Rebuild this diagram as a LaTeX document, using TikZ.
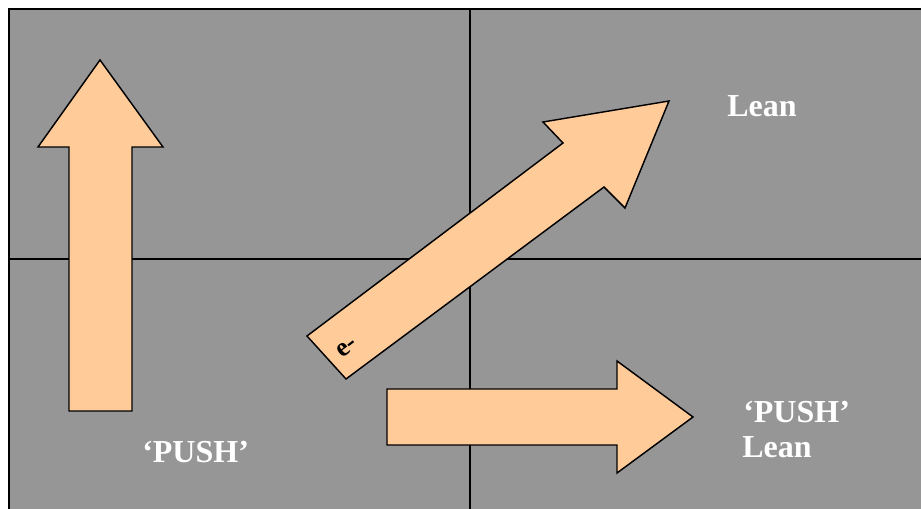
\documentclass[tikz,border=0pt]{standalone}
\usepackage{fontspec}
\setmainfont{Liberation Serif}
\usepackage{xcolor}
\definecolor{panelGray}{RGB}{150,150,150}
\definecolor{arrowPeach}{RGB}{255,204,153}
\tikzset{
  bigarrow/.style={fill=arrowPeach, draw=black, line width=1.1pt, line join=miter},
  leanlabel/.style={anchor=base west, inner sep=0pt, text=white,
                    font=\fontsize{24}{26}\selectfont\bfseries},
}

\begin{document}
\begin{tikzpicture}[x=0.75pt, y=-0.75pt]
    \useasboundingbox (0,0) rectangle (921,509);
    % background panel and quadrant lines
    \fill[panelGray] (9,9) rectangle (921,509);
    \draw[line width=1.4pt] (921,9) -- (9,9) -- (9,509);
    \draw[line width=1.1pt] (470,9) -- (470,509);
    \draw[line width=1.1pt] (9,259) -- (921,259);
    % arrows
    \draw[bigarrow] (69,411) -- (69,147) -- (38,147) -- (100,60) -- (163,147)
      -- (132,147) -- (132,411) -- cycle;
    \draw[bigarrow] (307,336) -- (563,143) -- (543,122) -- (669,101) -- (625,208)
      -- (604,187) -- (346,379) -- cycle;
    \draw[bigarrow] (387,389) -- (617,389) -- (617,361) -- (693,417) -- (617,473)
      -- (617,445) -- (387,445) -- cycle;
    % labels
    \node[leanlabel] (leanTop) at (727,117) {Lean};
    \node[leanlabel] (pushRight) at (743,422) {‘PUSH’};
    \node[leanlabel] (leanRight) at (742,457) {Lean};
    \node[leanlabel] (pushLeft) at (142,462) {‘PUSH’};
    \node[inner sep=0pt, rotate=37, font=\fontsize{20}{22}\selectfont\bfseries]
      (electron) at (347,347) {e-};
\end{tikzpicture}
\end{document}
